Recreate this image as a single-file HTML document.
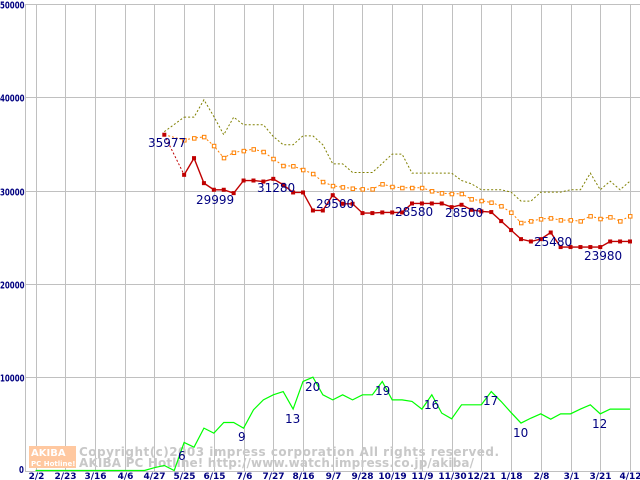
<!DOCTYPE html>
<html><head><meta charset="utf-8"><style>
html,body{margin:0;padding:0;background:#fff;width:640px;height:480px;overflow:hidden}
svg{display:block}
text{font-family:"DejaVu Sans","Liberation Sans",sans-serif}
</style></head><body>
<svg id="chart" width="640" height="480" viewBox="0 0 640 480" xmlns="http://www.w3.org/2000/svg">
<g id="grid"></g>
<g id="watermark">
<rect x="29" y="446" width="47" height="22" fill="#ffc8a0"/>
<text x="31" y="456" font-size="10" font-weight="bold" fill="#fff">AKIBA</text>
<text x="31" y="466" font-size="7" font-weight="bold" fill="#fff">PC Hotline!</text>
<text x="79" y="456" font-size="12" font-family="Liberation Mono,monospace" font-weight="bold" fill="#c8c8c8" textLength="420" lengthAdjust="spacing">Copyright(c)2003 impress corporation All rights reserved.</text>
<text x="79" y="467" font-size="12" font-family="Liberation Mono,monospace" font-weight="bold" fill="#c8c8c8" textLength="395" lengthAdjust="spacing">AKIBA PC Hotline!  http://www.watch.impress.co.jp/akiba/</text>
</g>
<g id="series"></g>
<g id="labels"></g>
</svg>
<script>
const xLabels=["2/2","2/23","3/16","4/6","4/27","5/25","6/15","7/6","7/27","8/16","9/7","9/28","10/19","11/9","11/30","12/21","1/18","2/8","3/1","3/21","4/12"];
const yTicks=[0,10000,20000,30000,40000,50000];
const redStart=13;
const redValues=[35977,null,31680,33470,30790,30080,30080,29720,31070,31070,30960,31250,30610,29790,29790,27860,27860,29500,28580,28580,27580,27580,27650,27650,27650,28610,28610,28610,28610,28220,28470,27930,27760,27690,26720,25760,24790,24540,24790,25500,23940,23940,23940,23940,23940,24540,24540,24540];
const orangeValues=[35977,null,35410,35610,35750,34790,33500,34070,34250,34430,34150,33400,32650,32620,32220,31790,30930,30500,30360,30220,30150,30150,30690,30400,30290,30290,30290,29940,29720,29650,29650,29080,28900,28720,28330,27650,26540,26720,26940,27040,26830,26830,26720,27260,26970,27150,26720,27260];
const oliveValues=[36300,null,37860,37860,39720,37930,35970,37860,37040,37040,37040,35790,34900,34900,35860,35860,34900,32860,32860,31930,31930,31930,32900,33900,33900,31860,31860,31860,31860,31860,31070,30720,30080,30080,30080,29830,28860,28860,29830,29830,29830,30080,30080,31860,30080,31000,30080,31000];
const greenValues=[0,0,0,0,0,0,0,0,0,0,0,0,300,540,0,3000,2500,4540,4000,5140,5140,4540,6500,7570,8110,8460,6580,9540,10000,8110,7570,8110,7570,8110,8110,9540,7570,7570,7400,6580,8110,6150,5540,7040,7040,7040,8460,7390,6210,5080,5610,6070,5500,6070,6070,6580,7040,6070,6580,6580,6580];
const redLabels=[["35977",148,147],["29999",196,204],["31280",257,192],["29500",316,208],["28580",395,216],["28500",445,217],["25480",534,246],["23980",584,260]];
const greenLabels=[["6",178,460],["9",238,441],["13",285,423],["20",305,391],["19",375,395],["16",424,409],["17",483,405],["10",513,437],["12",592,428]];

const NS="http://www.w3.org/2000/svg";
const X=i=>35.5+i*9.908;
const Y=v=>470.5-v*0.009333;
function mk(tag,attrs,parent){const e=document.createElementNS(NS,tag);for(const k in attrs)e.setAttribute(k,attrs[k]);parent.appendChild(e);return e;}
const grid=document.getElementById('grid'),ser=document.getElementById('series'),lab=document.getElementById('labels');
yTicks.forEach(v=>{
  const y=Math.round(Y(v))+0.5;
  const l=mk('line',{x1:25,x2:640,y1:y,y2:y,stroke:'#c0c0c0','stroke-width':1},grid);
  
  
  const t=mk('text',{x:0,y:Math.min(y+4,473),'font-size':10,'font-weight':'bold',fill:'#000080',textLength:(String(v).length*4.9),lengthAdjust:'spacingAndGlyphs'},grid);
  if(v===0){t.setAttribute('x',19);}
  t.textContent=v;
  
  
});
const ax=mk('line',{x1:25.5,x2:25.5,y1:4,y2:471,stroke:'#c0c0c0'},grid);


xLabels.forEach((s,k)=>{
  const x=Math.round(X(k*3))+0.5;
  const l=mk('line',{x1:x,x2:x,y1:4,y2:471,stroke:'#c0c0c0'},grid);
  
  
  const t=mk('text',{x:x,y:479,'text-anchor':'middle','font-size':9,'font-weight':'bold',fill:'#000080'},grid);
  t.textContent=s;
  
  
});
function segs(vals,start){const out=[];let cur=[];vals.forEach((v,j)=>{if(v===null){if(cur.length)out.push(cur);cur=[];}else cur.push([X(start+j),Y(v)]);});if(cur.length)out.push(cur);return out;}
function draw(vals,start,color,dash,w,name){
  const s=segs(vals,start);
  s.forEach(pts=>{const p=mk('polyline',{points:pts.map(q=>q.join(',')).join(' '),fill:'none',stroke:color,'stroke-width':w,'stroke-dasharray':dash||'none'},ser);
  
  });
  for(let k=0;k+1<s.length;k++){const a=s[k][s[k].length-1],b=s[k+1][0];
    const p=mk('line',{x1:a[0],y1:a[1],x2:b[0],y2:b[1],stroke:color,'stroke-width':1,'stroke-dasharray':'2,2'},ser);
    
    }
}
draw(greenValues,0,'#00ff00',null,1.2,'count-line');
draw(oliveValues,redStart,'#808000','2,2',1,'max-price-line');
draw(orangeValues,redStart,'#ff8000','2,2',1,'avg-price-line');
draw(redValues,redStart,'#c00000',null,1.4,'min-price-line');
orangeValues.forEach((v,j)=>{if(v===null||j===0)return;
  const r=mk('rect',{x:X(redStart+j)-1.5,y:Y(v)-1.5,width:3.5,height:3.5,fill:'#fff',stroke:'#ff8000','stroke-width':1},ser);
  
  });
redValues.forEach((v,j)=>{if(v===null)return;
  const r=mk('rect',{x:X(redStart+j)-2,y:Y(v)-2,width:4,height:4,fill:'#c00000'},ser);
  
  });
redLabels.concat(greenLabels).forEach(a=>{
  const t=mk('text',{x:a[1],y:a[2],'font-size':12,fill:'#000080'},lab);
  t.textContent=a[0];
  
  
});
</script>
</body></html>
